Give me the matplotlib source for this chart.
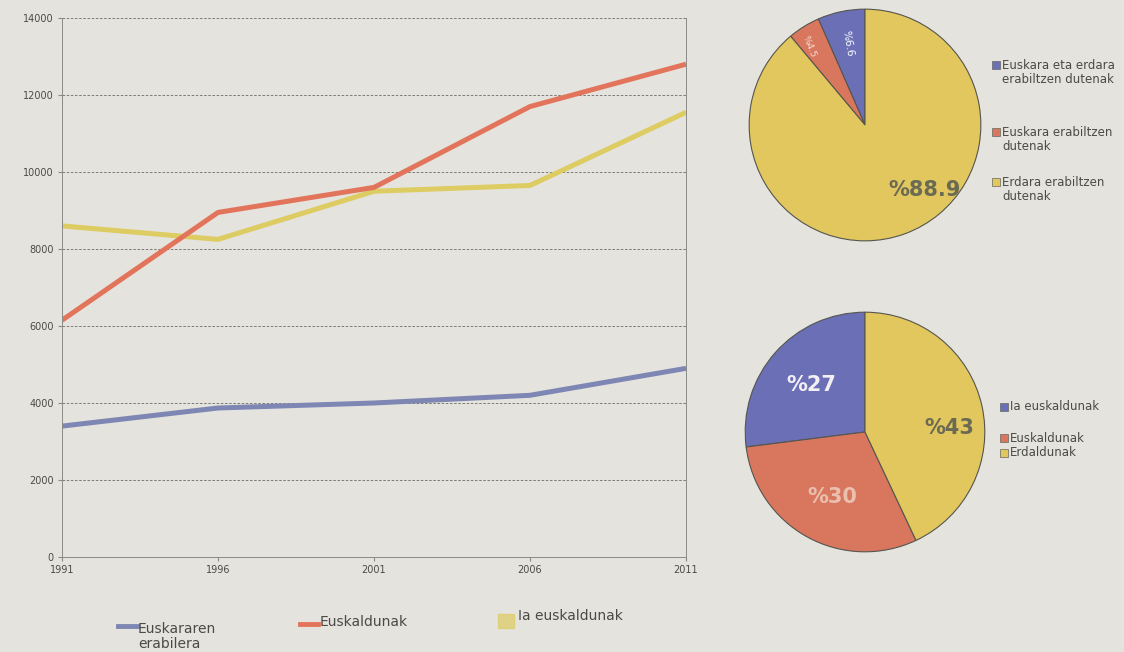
import matplotlib
matplotlib.use("Agg")
import matplotlib.pyplot as plt
from matplotlib.patches import Rectangle
from matplotlib.lines import Line2D

plt.rcParams['font.family'] = ['Liberation Sans Narrow', 'DejaVu Sans']

# ---- data ----
years = [1991, 1996, 2001, 2006, 2011]
erabilera = [3400, 3870, 4000, 4200, 4900]
euskaldunak = [6150, 8950, 9600, 11700, 12800]
ia_euskaldunak = [8600, 8250, 9500, 9650, 11550]
y_ticks = [0, 2000, 4000, 6000, 8000, 10000, 12000, 14000]
line_labels = ["Euskararen\nerabilera", "Euskaldunak", "Ia euskaldunak"]

pie1_labels = ["Euskara eta erdara\nerabiltzen dutenak", "Euskara erabiltzen\ndutenak", "Erdara erabiltzen\ndutenak"]
pie1_values = [6.6, 4.5, 88.9]
pie2_labels = ["Ia euskaldunak", "Euskaldunak", "Erdaldunak"]
pie2_values = [27, 30, 43]

BG = '#e5e3dd'
BLUE_L = '#7e86b4'
RED_L = '#e3745c'
YEL_L = '#ddcc62'
BLUE_P = '#6a6fb6'
RED_P = '#d9765e'
YEL_P = '#e2c75e'
TXT = '#4a4a46'

fig = plt.figure(figsize=(11.24, 6.52), dpi=100, facecolor=BG)
W, H = 1124, 652

# ---- line chart ----
ax = fig.add_axes([62 / W, 1 - 557 / H, (686 - 62) / W, (557 - 18) / H])
ax.set_facecolor(BG)
ax.plot(years, ia_euskaldunak, color=YEL_L, lw=3.6, solid_capstyle='butt')
ax.plot(years, euskaldunak, color=RED_L, lw=3.6, solid_capstyle='butt')
ax.plot(years, erabilera, color=BLUE_L, lw=3.6, solid_capstyle='butt')
ax.set_xlim(years[0], years[-1])
ax.set_ylim(0, 14000)
ax.set_xticks(years)
ax.set_yticks(y_ticks)
ax.set_xticklabels([str(y) for y in years], fontsize=7, color=TXT)
ax.set_yticklabels([str(v) for v in y_ticks], fontsize=7, color=TXT)
ax.grid(axis='y', color='#6a6a66', lw=0.6, ls=(0, (3, 2)))
ax.spines['top'].set_visible(False)
for s in ['left', 'right', 'bottom']:
    ax.spines[s].set_color('#8a8a86')
    ax.spines[s].set_linewidth(0.7)
ax.tick_params(axis='both', length=3, color='#8a8a86', pad=3)

# line legend
fig.text(138 / W, 1 - 622 / H, line_labels[0], fontsize=10, color=TXT, va='top', ha='left', linespacing=1.1)
fig.add_artist(Line2D([118 / W, 137 / W], [1 - 626 / H] * 2, color=BLUE_L, lw=3.5))
fig.text(320 / W, 1 - 622 / H, line_labels[1], fontsize=10, color=TXT, va='center', ha='left')
fig.add_artist(Line2D([300 / W, 318 / W], [1 - 624 / H] * 2, color=RED_L, lw=3.5))
fig.text(518 / W, 1 - 616 / H, line_labels[2], fontsize=10, color=TXT, va='center', ha='left')
fig.add_artist(Rectangle((498 / W, 1 - 628 / H), 16 / W, 14 / H, color=YEL_L, alpha=0.7, transform=fig.transFigure))

# ---- pie 1 ----
r1 = 117
ax1 = fig.add_axes([(865 - r1) / W, 1 - (125 + r1) / H, 2 * r1 / W, 2 * r1 / H])
ax1.pie(pie1_values, colors=[BLUE_P, RED_P, YEL_P], startangle=90, counterclock=True,
        wedgeprops=dict(edgecolor='#55554f', linewidth=0.8))
ax1.set_xlim(-1.01, 1.01)
ax1.set_ylim(-1.01, 1.01)
ax1.set_aspect('equal')
ax1.text(0.51, -0.56, "%%%.1f" % pie1_values[2], fontsize=15, fontweight='bold', color='#6b6a52',
         ha='center', va='center')
ax1.text(-0.15, 0.70, "%%%.1f" % pie1_values[0], fontsize=7.5, color='white', rotation=-80,
         ha='center', va='center')
ax1.text(-0.48, 0.68, "%%%.1f" % pie1_values[1], fontsize=6.5, color='#f3dcd2', rotation=-68,
         ha='center', va='center')

leg1_y = [65, 132, 182]
leg1_c = [BLUE_P, RED_P, YEL_P]
for lab, yy, c in zip(pie1_labels, leg1_y, leg1_c):
    fig.add_artist(Rectangle((992 / W, 1 - (yy + 4) / H), 8 / W, 8 / H, facecolor=c,
                             edgecolor='#66665f', lw=0.5, transform=fig.transFigure))
    fig.text(1002 / W, 1 - (yy - 6) / H, lab, fontsize=8.5, color=TXT, va='top', ha='left', linespacing=1.1)

# ---- pie 2 ----
r2 = 121
ax2 = fig.add_axes([(865 - r2) / W, 1 - (432 + r2) / H, 2 * r2 / W, 2 * r2 / H])
ax2.pie(pie2_values, colors=[BLUE_P, RED_P, YEL_P], startangle=90, counterclock=True,
        wedgeprops=dict(edgecolor='#55554f', linewidth=0.8))
ax2.set_xlim(-1.01, 1.01)
ax2.set_ylim(-1.01, 1.01)
ax2.set_aspect('equal')
ax2.text(-0.45, 0.39, "%%%d" % pie2_values[0], fontsize=15, fontweight='bold', color='#f2f0f4',
         ha='center', va='center')
ax2.text(-0.27, -0.54, "%%%d" % pie2_values[1], fontsize=15, fontweight='bold', color='#e9bfae',
         ha='center', va='center')
ax2.text(0.70, 0.03, "%%%d" % pie2_values[2], fontsize=15, fontweight='bold', color='#6b6a52',
         ha='center', va='center')

leg2_y = [407, 438, 453]
for lab, yy, c in zip(pie2_labels, leg2_y, leg1_c):
    fig.add_artist(Rectangle((1000 / W, 1 - (yy + 4) / H), 8 / W, 8 / H, facecolor=c,
                             edgecolor='#66665f', lw=0.5, transform=fig.transFigure))
    fig.text(1010 / W, 1 - yy / H, lab, fontsize=8.5, color=TXT, va='center', ha='left')

fig.savefig('out.png', dpi=100, facecolor=BG)
